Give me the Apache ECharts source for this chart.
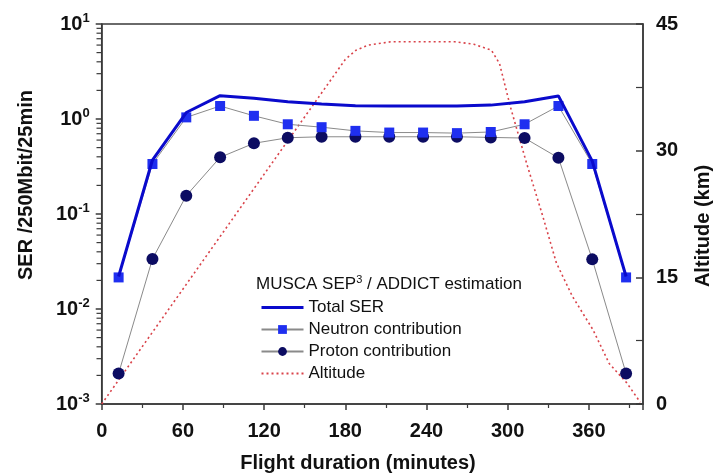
<!DOCTYPE html>
<html><head><meta charset="utf-8">
<script src="https://cdn.jsdelivr.net/npm/echarts@6/dist/echarts.min.js"></script>
<style>html,body{margin:0;padding:0;background:#fff}#c{width:717px;height:474px}</style>
</head><body><div id="c"></div>
<script>
// Flight time (minutes) of each SER estimate
const times = [12.5, 37.5, 62.5, 87.5, 112.5, 137.5, 162.5, 187.5, 212.5, 237.5, 262.5, 287.5, 312.5, 337.5, 362.5, 387.5];
// SER per 250Mbit per 25 min
const totalSER = [0.022, 0.37, 1.17, 1.76, 1.65, 1.52, 1.44, 1.38, 1.37, 1.37, 1.37, 1.40, 1.52, 1.75, 0.36, 0.022];
const neutron = [0.0215, 0.336, 1.04, 1.37, 1.08, 0.88, 0.82, 0.75, 0.72, 0.72, 0.71, 0.73, 0.88, 1.37, 0.336, 0.0215];
const proton = [0.0021, 0.0336, 0.156, 0.395, 0.555, 0.635, 0.65, 0.65, 0.65, 0.65, 0.65, 0.64, 0.63, 0.39, 0.0333, 0.0021];
// Altitude profile (km)
const altTimes = [0, 90, 180, 188, 197, 214, 261, 275, 288, 294, 302, 314, 326, 336, 348, 363, 375, 388, 398];
const altitude = [0, 20.4, 40.8, 41.9, 42.5, 42.9, 42.9, 42.6, 41.9, 40.3, 35.2, 28.5, 22.2, 16.7, 12.7, 8.8, 4.8, 2.5, 0.2];
// Axis ticks
const xTicks = [0, 60, 120, 180, 240, 300, 360];
const leftDecades = [-3, -2, -1, 0, 1];
const rightTicks = [0, 15, 30, 45];

const FONT = "'Liberation Sans', Arial, Helvetica, sans-serif";
const AX = '#3a3a3a';
const pair = (xs, ys) => xs.map((x, i) => [x, ys[i]]);

const chart = echarts.init(document.getElementById('c'), null, {renderer: 'canvas'});
const option = {
  animation: false,
  backgroundColor: '#fff',
  grid: {left: 101.7, right: 74, top: 24, bottom: 70, show: true, borderColor: AX, borderWidth: 1.5},
  legend: {
    orient: 'vertical', left: 255, top: 294,
    itemWidth: 42, itemHeight: 11, itemGap: 5,
    textStyle: {fontFamily: FONT, fontSize: 17, color: '#111', lineHeight: 17},
    data: [
      {name: 'Total SER', itemStyle: {opacity: 0}, lineStyle: {width: 3}},
      'Neutron contribution',
      'Proton contribution',
      {name: 'Altitude', itemStyle: {opacity: 0}}
    ]
  },
  xAxis: {
    type: 'value', min: 0, max: 400, interval: 60,
    axisLine: {lineStyle: {color: AX, width: 1.5}},
    axisTick: {length: 6, lineStyle: {color: AX, width: 1.5}},
    minorTick: {show: true, splitNumber: 2, length: 4, lineStyle: {color: AX, width: 1.2}},
    splitLine: {show: false},
    axisLabel: {showMaxLabel: false, fontFamily: FONT, fontWeight: 'bold', fontSize: 20, color: '#111', margin: 17,
      formatter: v => xTicks.includes(v) ? String(v) : ''}
  },
  yAxis: [{
    type: 'log', logBase: 10, min: Math.pow(10, leftDecades[0]), max: Math.pow(10, leftDecades[leftDecades.length - 1]),
    axisLine: {show: true, lineStyle: {color: AX, width: 1.5}},
    axisTick: {show: true, length: 6, lineStyle: {color: AX, width: 1.5}},
    splitLine: {show: false},
    axisLabel: {
      margin: 12,
      formatter: v => '{b|10}{s|' + Math.round(Math.log10(v)) + '}',
      rich: {
        b: {fontFamily: FONT, fontWeight: 'bold', fontSize: 20, color: '#111', lineHeight: 24},
        s: {fontFamily: FONT, fontWeight: 'bold', fontSize: 13, color: '#111', verticalAlign: 'top', lineHeight: 24}
      }
    }
  }, {
    type: 'value', position: 'right', min: rightTicks[0], max: rightTicks[rightTicks.length - 1], interval: 15,
    axisLine: {show: true, lineStyle: {color: AX, width: 1.5}},
    axisTick: {show: true, inside: true, length: 7, lineStyle: {color: AX, width: 1.5}},
    minorTick: {show: true, splitNumber: 2, length: 7, lineStyle: {color: AX, width: 1.2}},
    splitLine: {show: false},
    axisLabel: {margin: 13, fontFamily: FONT, fontWeight: 'bold', fontSize: 20, color: '#111'}
  }],
  series: [
    {name: 'Altitude', type: 'line', yAxisIndex: 1, data: pair(altTimes, altitude), showSymbol: false, symbol: 'none',
      lineStyle: {color: '#d9434a', width: 1.6, type: [2, 3]}, itemStyle: {color: '#d9434a'}, z: 1},
    {name: 'Proton contribution', type: 'line', yAxisIndex: 0, data: pair(times, proton), symbol: 'circle', symbolSize: 12,
      itemStyle: {color: '#0c0c62'}, lineStyle: {color: '#8a8a8a', width: 1}, z: 2},
    {name: 'Neutron contribution', type: 'line', yAxisIndex: 0, data: pair(times, neutron), symbol: 'rect', symbolSize: 10,
      itemStyle: {color: '#1f2ff0'}, lineStyle: {color: '#8a8a8a', width: 1}, z: 3},
    {name: 'Total SER', type: 'line', yAxisIndex: 0, data: pair(times, totalSER), showSymbol: false, symbol: 'none',
      lineStyle: {color: '#0a0acc', width: 3}, itemStyle: {color: '#0a0acc'}, z: 4}
  ]
};
chart.setOption(option);

// log minor ticks and texts
const graphics = [];
for (let n = leftDecades[0]; n < leftDecades[leftDecades.length - 1]; n++) {
  for (let k = 2; k <= 9; k++) {
    const y = chart.convertToPixel({yAxisIndex: 0}, k * Math.pow(10, n));
    graphics.push({type: 'line', shape: {x1: 96.5, y1: y, x2: 101.7, y2: y}, style: {stroke: AX, lineWidth: 1.2}, silent: true});
  }
}
graphics.push({type: 'text', left: 256, top: 274, style: {
  text: '{a|MUSCA SEP}{s|3}{a| / ADDICT estimation}',
  rich: {a: {fontFamily: FONT, fontSize: 17, fill: '#111', lineHeight: 20},
         s: {fontFamily: FONT, fontSize: 11, fill: '#111', verticalAlign: 'top', lineHeight: 20}}
}});
graphics.push({type: 'text', x: 358, y: 463, style: {text: 'Flight duration (minutes)', font: 'bold 20px ' + FONT, fill: '#111', textAlign: 'center', textVerticalAlign: 'middle'}});
graphics.push({type: 'text', x: 26, y: 185, rotation: Math.PI / 2, style: {text: 'SER /250Mbit/25min', font: 'bold 20px ' + FONT, fill: '#111', textAlign: 'center', textVerticalAlign: 'middle'}});
graphics.push({type: 'text', x: 703, y: 226, rotation: Math.PI / 2, style: {text: 'Altitude (km)', font: 'bold 20px ' + FONT, fill: '#111', textAlign: 'center', textVerticalAlign: 'middle'}});
chart.setOption({graphic: graphics});
</script>
</body></html>
